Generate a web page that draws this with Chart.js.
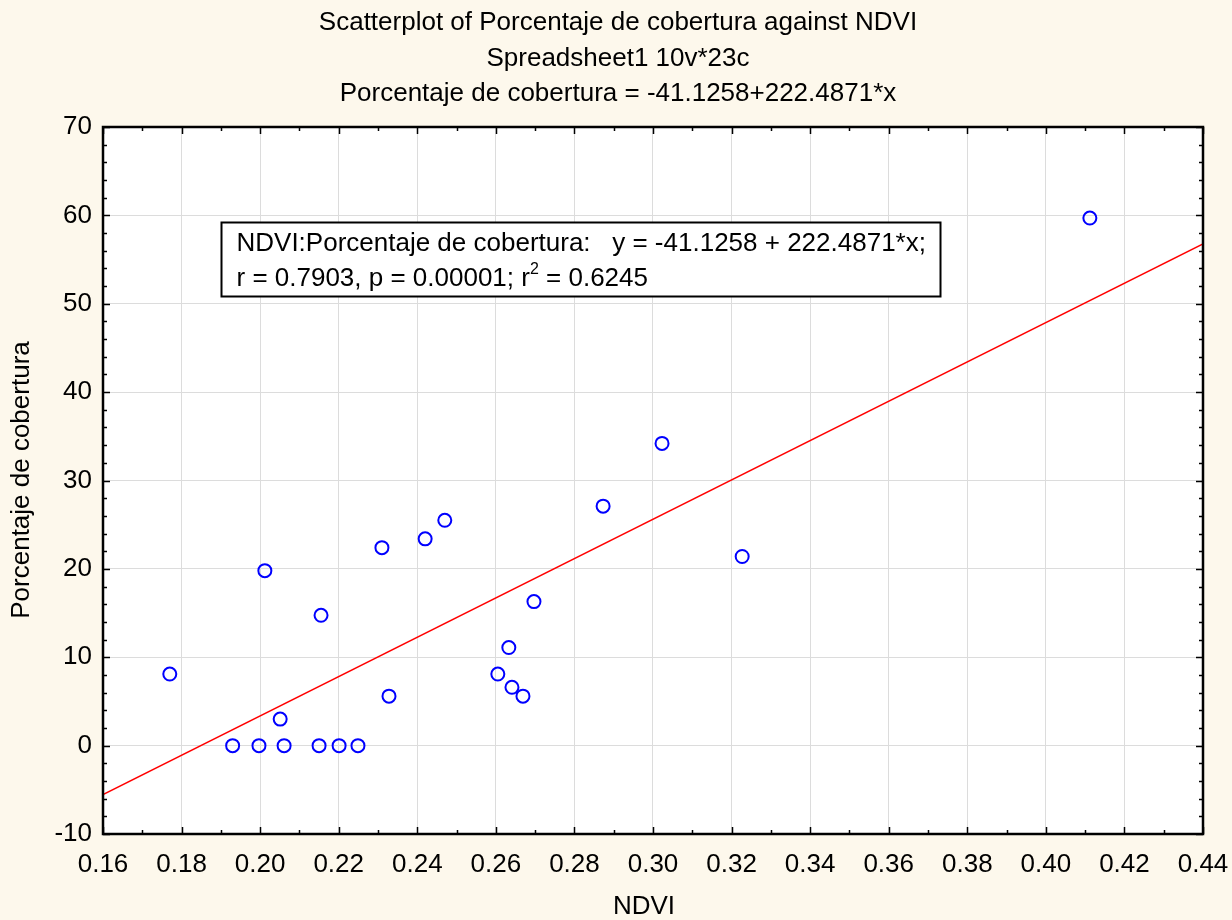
<!DOCTYPE html>
<html>
<head>
<meta charset="utf-8">
<script src="https://cdn.jsdelivr.net/npm/chart.js@4.4.1/dist/chart.umd.min.js"></script>
<style>
  html, body { margin: 0; padding: 0; background: #fdf8ec; }
  canvas { display: block; }
</style>
</head>
<body>
<canvas id="chart" width="1232" height="920"></canvas>
<script>
// NDVI (x) and Porcentaje de cobertura (y), 23 cases
const ndvi = [0.177, 0.193, 0.1997, 0.2012, 0.2051, 0.2061, 0.215, 0.2155, 0.2201, 0.2249,
  0.231, 0.2328, 0.242, 0.247, 0.2605, 0.2633, 0.2641, 0.2669, 0.2697, 0.2873,
  0.3023, 0.3227, 0.4112];
const cobertura = [8.1, 0, 0, 19.8, 3.0, 0, 0, 14.75, 0, 0,
  22.4, 5.6, 23.4, 25.5, 8.1, 11.1, 6.6, 5.6, 16.3, 27.1,
  34.2, 21.4, 59.7];

// fitted line from the chart subtitle
const intercept = -41.1258;
const slope = 222.4871;
const xRange = [0.16, 0.44];
const yRange = [-10, 70];

const titleLines = [
  "Scatterplot of Porcentaje de cobertura against NDVI",
  "Spreadsheet1 10v*23c",
  "Porcentaje de cobertura = -41.1258+222.4871*x"
];
const boxLine1 = "NDVI:Porcentaje de cobertura:   y = -41.1258 + 222.4871*x;";
const boxLine2 = ["r = 0.7903, p = 0.00001; r", "2", " = 0.6245"];

const FONT = "Liberation Sans, Arial, sans-serif";
const FS = 26;

const points = ndvi.map((x, i) => ({ x: x, y: cobertura[i] }));
const fitLine = xRange.map(x => ({ x: x, y: intercept + slope * x }));

// white plot area, frame, inward ticks, titles and the stats box
const decor = {
  id: "decor",
  beforeDraw(chart) {
    const { ctx, chartArea: a } = chart;
    ctx.save();
    ctx.fillStyle = "#fdf8ec";
    ctx.fillRect(0, 0, chart.width, chart.height);
    ctx.fillStyle = "#ffffff";
    ctx.fillRect(a.left, a.top, a.right - a.left, a.bottom - a.top);
    ctx.restore();
  },
  afterDraw(chart) {
    const { ctx, chartArea: a, scales } = chart;
    const sx = scales.x, sy = scales.y;
    ctx.save();
    ctx.strokeStyle = "#000";
    ctx.lineWidth = 1.5;
    // x ticks top and bottom
    for (let v = 0; v <= 28; v++) {
      const px = Math.round(sx.getPixelForValue(0.16 + v * 0.01)) + 0.5;
      const len = v % 2 === 0 ? 7 : 4;
      ctx.beginPath();
      ctx.moveTo(px, a.bottom); ctx.lineTo(px, a.bottom - len);
      ctx.moveTo(px, a.top); ctx.lineTo(px, a.top + len);
      ctx.stroke();
    }
    for (let v = -10; v <= 70; v += 2) {
      const py = Math.round(sy.getPixelForValue(v)) + 0.5;
      const len = v % 10 === 0 ? 7 : 4;
      ctx.beginPath();
      ctx.moveTo(a.left, py); ctx.lineTo(a.left + len, py);
      ctx.moveTo(a.right, py); ctx.lineTo(a.right - len, py);
      ctx.stroke();
    }
    ctx.lineWidth = 2.5;
    ctx.strokeRect(a.left, a.top, a.right - a.left, a.bottom - a.top);

    // titles
    ctx.fillStyle = "#000";
    ctx.font = FS + "px " + FONT;
    ctx.textAlign = "center";
    ctx.textBaseline = "middle";
    titleLines.forEach((t, i) => ctx.fillText(t, 618, 23 + i * 35.5));
    ctx.fillText("NDVI", 644, 907);
    ctx.save();
    ctx.translate(22, 480);
    ctx.rotate(-Math.PI / 2);
    ctx.fillText("Porcentaje de cobertura", 0, 0);
    ctx.restore();

    // stats box anchored in data space
    const bx = Math.round(sx.getPixelForValue(0.19)) + 0.5;
    const by = Math.round(sy.getPixelForValue(59.2)) + 0.5;
    ctx.textAlign = "left";
    const w1 = ctx.measureText(boxLine1).width;
    const bw = Math.round(w1 + 30), bh = 74;
    ctx.fillStyle = "#fff";
    ctx.fillRect(bx, by, bw, bh);
    ctx.lineWidth = 2;
    ctx.strokeRect(bx, by, bw, bh);
    ctx.fillStyle = "#000";
    ctx.fillText(boxLine1, bx + 15, by + 21);
    let tx = bx + 15;
    ctx.fillText(boxLine2[0], tx, by + 56);
    tx += ctx.measureText(boxLine2[0]).width;
    ctx.font = "16px " + FONT;
    ctx.fillText(boxLine2[1], tx, by + 47);
    tx += ctx.measureText(boxLine2[1]).width;
    ctx.font = FS + "px " + FONT;
    ctx.fillText(boxLine2[2], tx, by + 56);
    ctx.restore();
  }
};

new Chart(document.getElementById("chart"), {
  type: "scatter",
  data: {
    datasets: [
      {
        label: "Porcentaje de cobertura",
        data: points,
        showLine: false,
        pointStyle: "circle",
        pointRadius: 6.5,
        pointBorderWidth: 2,
        pointBorderColor: "#0000ff",
        pointBackgroundColor: "rgba(0,0,0,0)",
        order: 1
      },
      {
        label: "fit",
        type: "line",
        data: fitLine,
        borderColor: "#ff0000",
        borderWidth: 1.5,
        pointRadius: 0,
        fill: false,
        order: 2
      }
    ]
  },
  options: {
    responsive: false,
    animation: false,
    layout: { padding: { top: 127, right: 29, left: 0, bottom: 0 } },
    plugins: { legend: { display: false }, tooltip: { enabled: false } },
    scales: {
      x: {
        type: "linear",
        min: xRange[0],
        max: xRange[1],
        afterFit: s => { s.height = 86; s.paddingLeft = 0; s.paddingRight = 0; },
        afterBuildTicks: s => {
          s.ticks = [];
          for (let i = 0; i <= 14; i++) s.ticks.push({ value: +(0.16 + i * 0.02).toFixed(2) });
        },
        ticks: {
          color: "#000",
          font: { family: FONT, size: FS },
          padding: 15,
          maxRotation: 0,
          callback: v => v.toFixed(2)
        },
        grid: { color: "#dcdcdc", lineWidth: 1, drawTicks: false },
        border: { display: false }
      },
      y: {
        min: yRange[0],
        max: yRange[1],
        afterFit: s => { s.width = 103; },
        ticks: {
          stepSize: 10,
          color: "#000",
          font: { family: FONT, size: FS },
          padding: 11
        },
        grid: { color: "#dcdcdc", lineWidth: 1, drawTicks: false },
        border: { display: false }
      }
    }
  },
  plugins: [decor]
});
</script>
</body>
</html>
